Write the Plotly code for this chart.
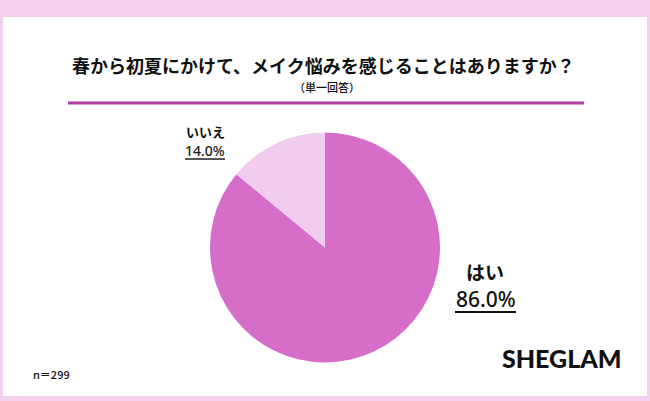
import plotly.graph_objects as go

categories = ["はい", "いいえ"]
values = [86.0, 14.0]
colors = ["#d66ec9", "#f2ccee"]
title_text = "春から初夏にかけて、メイク悩みを感じることはありますか？"
subtitle_text = "（単一回答）"
n_text = "n＝299"
brand = "SHEGLAM"

W, H = 650, 401
cx, cy, r = 325, 247.5, 115

def px(x):
    return x / W

def py(y):
    return 1 - y / H

fig = go.Figure()
fig.add_trace(go.Pie(
    labels=categories, values=values, sort=False, direction="clockwise", rotation=0,
    marker=dict(colors=colors, line=dict(width=0)), textinfo="none", hoverinfo="label+percent",
    showlegend=False,
    domain=dict(x=[px(cx - r), px(cx + r)], y=[py(cy + r), py(cy - r)]),
))

jp = "Noto Sans CJK JP"
shapes = [
    dict(type="rect", xref="paper", yref="paper", x0=px(3), x1=px(647), y0=py(396), y1=py(17),
         fillcolor="white", line=dict(width=0), layer="below"),
    dict(type="line", xref="paper", yref="paper", x0=px(68), x1=px(584), y0=py(103), y1=py(103),
         line=dict(color="#b13ea3", width=3)),
    dict(type="line", xref="paper", yref="paper", x0=px(185), x1=px(225), y0=py(159), y1=py(159),
         line=dict(color="#555555", width=2)),
    dict(type="line", xref="paper", yref="paper", x0=px(455), x1=px(516), y0=py(312), y1=py(312),
         line=dict(color="#111111", width=2)),
]

pct = [f"{v:.1f}%" for v in values]
annotations = [
    dict(text=f"<b>{title_text}</b>", x=px(323), y=py(65), font=dict(family=jp, size=18, color="#111111")),
    dict(text=subtitle_text, x=px(327), y=py(87), font=dict(family=jp, size=11, color="#111111", weight=500)),
    dict(text=f"<b>{categories[1]}</b>", x=px(205), y=py(131), font=dict(family=jp, size=13, color="#111111")),
    dict(text=pct[1], x=px(205), y=py(150), font=dict(family="Noto Sans", size=14, color="#222222", weight=500)),
    dict(text=f"<b>{categories[0]}</b>", x=px(485), y=py(271), font=dict(family=jp, size=19, color="#111111")),
    dict(text=pct[0], x=px(486), y=py(299), font=dict(family="Noto Sans", size=21, color="#111111", weight=500)),
    dict(text=n_text, x=px(51), y=py(374), font=dict(family=jp, size=11, color="#111111", weight=500)),
    dict(text=brand, x=px(562), y=py(358), font=dict(family="Lato", size=25, color="#111111", weight=900)),
]
for a in annotations:
    a.update(xref="paper", yref="paper", showarrow=False, xanchor="center", yanchor="middle")

fig.update_layout(
    width=W, height=H, margin=dict(l=0, r=0, t=0, b=0),
    paper_bgcolor="#f3cfee", plot_bgcolor="white",
    shapes=shapes, annotations=annotations,
)
fig.write_html("out.html", config={"displayModeBar": False},
               post_script="document.body.style.margin='0';document.body.style.overflow='hidden';")
